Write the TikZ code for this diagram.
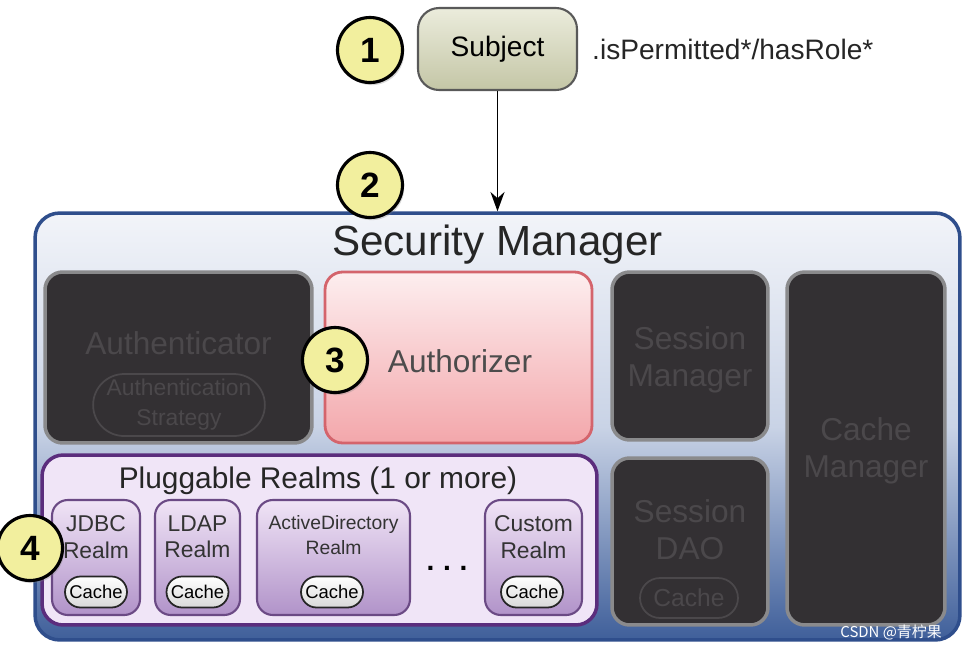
\documentclass[tikz,border=0pt]{standalone}
\usepackage{fontspec}
\setmainfont{Liberation Sans}
\newfontfamily\cjk{Noto Sans CJK SC}
\usetikzlibrary{arrows.meta,shadows,shapes.misc}

\definecolor{smedge}{HTML}{2F4E8C}
\definecolor{smtop}{HTML}{F2F4F9}
\definecolor{smmid}{HTML}{C9D3E6}
\definecolor{smbot}{HTML}{3F5F9A}
\definecolor{boxdark}{HTML}{333033}
\definecolor{boxedge}{HTML}{8A8A8C}
\definecolor{textdark}{HTML}{4B484B}
\definecolor{numyellow}{HTML}{F2EF9E}
\definecolor{pinktop}{HTML}{FDEEEF}
\definecolor{pinkbot}{HTML}{F3A7AB}
\definecolor{pinkedge}{HTML}{D4646C}
\definecolor{subjtop}{HTML}{EBECDC}
\definecolor{subjbot}{HTML}{C4C6A6}
\definecolor{plugfill}{HTML}{F0E5F7}
\definecolor{plugedge}{HTML}{5B2D7D}
\definecolor{realmtop}{HTML}{F0E4F6}
\definecolor{realmbot}{HTML}{B193C9}
\definecolor{realmedge}{HTML}{6B4A85}

\newcommand{\fsz}[2]{\fontsize{#1}{#2}\selectfont}

\tikzset{
  box/.style={rectangle, rounded corners=10pt, inner sep=0pt},
  darkbox/.style={box, fill=boxdark, draw=boxedge, line width=2pt},
  darktext/.style={text=textdark, align=center, font=\fsz{18}{21}},
  darkpill/.style={rounded rectangle, draw=textdark, line width=1pt, inner sep=0pt},
  realm/.style={box, rounded corners=9pt, top color=realmtop, bottom color=realmbot,
    draw=realmedge, line width=1.2pt, minimum height=2.3cm},
  realmtext/.style={align=center, text=black!80, font=\fsz{13}{15}},
  cachepill/.style={rounded rectangle, draw=black!85, line width=1pt, top color=white,
    bottom color=black!15, minimum width=1.24cm, minimum height=0.62cm, inner sep=0pt,
    font=\fsz{10.5}{13}},
  num/.style={circle, fill=numyellow, draw=black, line width=1.8pt, minimum size=1.3cm,
    inner sep=0pt, font=\fsz{20}{24}\bfseries,
    drop shadow={shadow xshift=1pt, shadow yshift=-1.5pt, opacity=0.3}}
}

\begin{document}
\begin{tikzpicture}[x=0.02cm,y=-0.02cm]
\useasboundingbox[fill=white] (0,0) rectangle (965,647);

% subject on top
\node[box, rounded corners=12pt, top color=subjtop, bottom color=subjbot, draw=black!65,
  line width=1.2pt, minimum width=3.18cm, minimum height=1.64cm, font=\fsz{16}{19}]
  (subj) at (497.5,49) {Subject};
\node[anchor=west, font=\fsz{16}{19}, text=black!85] (call) at (586,49) {.isPermitted*/hasRole*};

% security manager
\node[box, rounded corners=14pt, top color=smtop, bottom color=smbot, middle color=smmid,
  draw=smedge, line width=2pt, minimum width=18.5cm, minimum height=8.54cm]
  (sm) at (497.5,426.5) {};
\node[font=\fsz{24}{28}, text=black!85] (smtxt) at (497.5,245) {Security Manager};

\draw[-{Stealth[length=11pt,width=8pt]}, line width=1pt] (subj.south) -- (sm.north);

% authenticator
\node[darkbox, minimum width=5.34cm, minimum height=3.42cm] (authc) at (178.5,357.5) {};
\node[darktext] (authctxt) at (178.5,343) {Authenticator};
\node[darkpill, minimum width=3.16cm, minimum height=1.24cm, text=textdark,
  align=center, font=\fsz{13}{17}] (strat) at (179,405) {Authentication\\Strategy};

% authorizer
\node[box, top color=pinktop, bottom color=pinkbot, draw=pinkedge, line width=1.6pt,
  minimum width=5.34cm, minimum height=3.42cm] (authz) at (458.5,357.5) {};
\node[font=\fsz{18}{21}, text=black!70] (authztxt) at (460,361) {Authorizer};

% session and cache
\node[darkbox, minimum width=3.12cm, minimum height=3.36cm] (sessmgr) at (690,356) {};
\node[darktext] (sessmgrtxt) at (690,360) {Session\\Manager};
\node[darkbox, minimum width=3.12cm, minimum height=3.34cm] (sessdao) at (690,541.5) {};
\node[darktext] (sessdaotxt) at (690,530) {Session\\DAO};
\node[darkpill, minimum width=1.96cm, minimum height=0.8cm, text=textdark,
  font=\fsz{14}{16}] (daocache) at (689,598) {Cache};
\node[darkbox, minimum width=3.16cm, minimum height=7.06cm] (cachemgr) at (866,448.5) {};
\node[darktext] (cachemgrtxt) at (866,451) {Cache\\Manager};

% pluggable realms
\node[box, rounded corners=12pt, fill=plugfill, draw=plugedge, line width=2pt,
  minimum width=11.1cm, minimum height=3.4cm] (plug) at (319.5,540) {};
\node[font=\fsz{17}{20}, text=black!85] (plugtxt) at (318,481) {Pluggable Realms (1 or more)};

\node[realm, minimum width=1.76cm] (jdbc) at (96,557.5) {};
\node[realmtext] (jdbctxt) at (96,537) {JDBC\\Realm};
\node[cachepill] (jdbccache) at (96,592) {Cache};

\node[realm, minimum width=1.7cm] (ldap) at (197.5,557.5) {};
\node[realmtext] (ldaptxt) at (197.5,537) {LDAP\\Realm};
\node[cachepill] (ldapcache) at (197.5,592) {Cache};

\node[realm, minimum width=3.06cm] (ad) at (333.5,557.5) {};
\node[realmtext, font=\fsz{11}{14}] (adtxt) at (333.5,535) {ActiveDirectory\\Realm};
\node[cachepill] (adcache) at (332,592) {Cache};

\node[font=\fsz{16}{20}\bfseries] (dots) at (447,568) {.\hspace{5pt}.\hspace{5pt}.};

\node[realm, minimum width=1.94cm] (custom) at (533.5,557.5) {};
\node[realmtext] (customtxt) at (533.5,537) {Custom\\Realm};
\node[cachepill] (customcache) at (532,592) {Cache};

% numbers
\node[num] (n1) at (370,50) {1};
\node[num] (n2) at (370,185) {2};
\node[num] (n3) at (335,360) {3};
\node[num] (n4) at (30,548) {4};

\node[anchor=east, text=white, font=\cjk\fsz{8.5}{10}] (mark) at (948,632) {CSDN @青柠果};
\end{tikzpicture}
\end{document}
